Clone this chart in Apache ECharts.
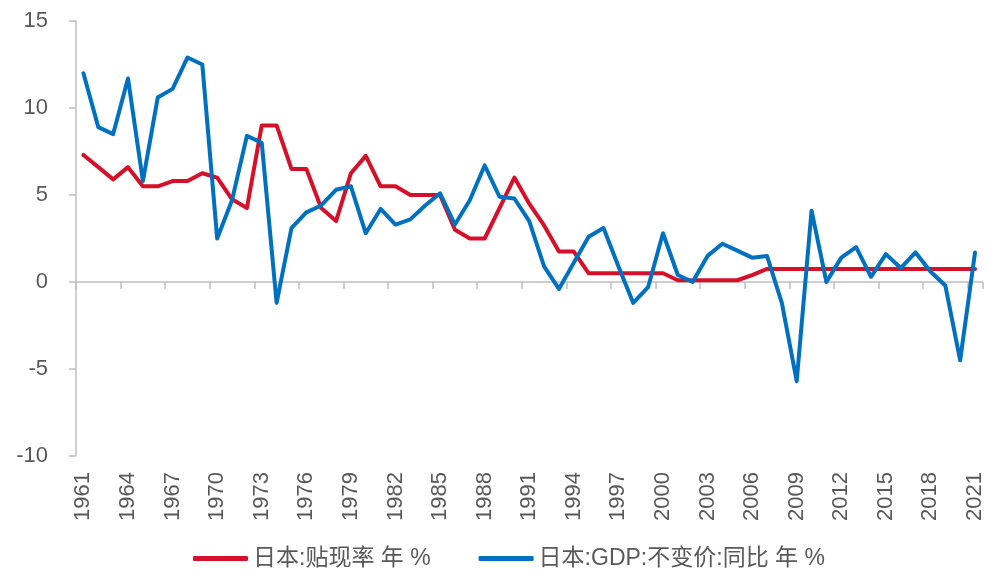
<!DOCTYPE html>
<html>
<head>
<meta charset="utf-8">
<script src="https://cdn.jsdelivr.net/npm/echarts@6/dist/echarts.min.js"></script>
<style>
  html, body { margin: 0; padding: 0; background: #fff; }
  #main { width: 986px; height: 570px; }
</style>
</head>
<body>
<div id="main"></div>
<script>
  // 年份 1961-2021
  var years = [];
  for (var y = 1961; y <= 2021; y++) years.push(String(y));

  // 日本:贴现率 年 %
  var discountRate = [
    7.3, 6.6, 5.9, 6.6, 5.5, 5.5, 5.8, 5.8, 6.25, 6.0,
    4.75, 4.25, 9.0, 9.0, 6.5, 6.5, 4.25, 3.5, 6.25, 7.25,
    5.5, 5.5, 5.0, 5.0, 5.0, 3.0, 2.5, 2.5, 4.25, 6.0,
    4.5, 3.25, 1.75, 1.75, 0.5, 0.5, 0.5, 0.5, 0.5, 0.5,
    0.1, 0.1, 0.1, 0.1, 0.1, 0.4, 0.75, 0.75, 0.75, 0.75,
    0.75, 0.75, 0.75, 0.75, 0.75, 0.75, 0.75, 0.75, 0.75, 0.75,
    0.75
  ];

  // 日本:GDP:不变价:同比 年 %
  var gdpYoy = [
    12.0, 8.9, 8.5, 11.7, 5.8, 10.6, 11.1, 12.9, 12.5, 2.5,
    4.7, 8.4, 8.0, -1.2, 3.1, 4.0, 4.4, 5.3, 5.5, 2.8,
    4.2, 3.3, 3.6, 4.4, 5.1, 3.3, 4.7, 6.7, 4.9, 4.8,
    3.5, 0.9, -0.4, 1.1, 2.6, 3.1, 0.9, -1.2, -0.3, 2.8,
    0.4, 0.0, 1.5, 2.2, 1.8, 1.4, 1.5, -1.2, -5.7, 4.1,
    0.0, 1.4, 2.0, 0.3, 1.6, 0.8, 1.7, 0.6, -0.2, -4.5,
    1.7
  ];

  var yTicks = [-10, -5, 0, 5, 10, 15];

  var axisGray = '#bfbfbf';
  var textGray = '#595959';
  var font = '"Liberation Sans", Arial, "Noto Sans CJK SC", sans-serif';

  var myChart = echarts.init(document.getElementById('main'));
  myChart.setOption({
    animation: false,
    textStyle: { fontFamily: font },
    grid: { left: 76, right: 2, top: 21, bottom: 114 },
    legend: {
      bottom: -5,
      left: 188,
      icon: 'roundRect',
      itemWidth: 55,
      itemHeight: 5,
      itemGap: 48,
      textStyle: { fontSize: 23, color: textGray, fontFamily: font },
      data: ['日本:贴现率 年 %', '日本:GDP:不变价:同比 年 %']
    },
    xAxis: [
      {
        // 零轴: 只画线和刻度
        type: 'category',
        data: years,
        boundaryGap: true,
        axisLine: { onZero: true, lineStyle: { color: axisGray, width: 1.5 } },
        axisTick: { show: true, interval: 2, length: 7, lineStyle: { color: axisGray, width: 1.5 } },
        axisLabel: { show: false },
        splitLine: { show: false }
      },
      {
        // 底部标签
        type: 'category',
        data: years,
        position: 'bottom',
        boundaryGap: true,
        axisLine: { show: false, onZero: false },
        axisTick: { show: false },
        axisLabel: {
          interval: 2,
          rotate: 90,
          margin: 16,
          fontSize: 22,
          color: textGray,
          fontFamily: font
        },
        splitLine: { show: false }
      }
    ],
    yAxis: {
      type: 'value',
      min: yTicks[0],
      max: yTicks[yTicks.length - 1],
      interval: 5,
      axisLine: { show: true, lineStyle: { color: axisGray, width: 1.5 } },
      axisTick: { show: true, length: 7, lineStyle: { color: axisGray, width: 1.5 } },
      axisLabel: { margin: 28, fontSize: 22, color: textGray, fontFamily: font },
      splitLine: { show: false }
    },
    series: [
      {
        name: '日本:贴现率 年 %',
        type: 'line',
        xAxisIndex: 0,
        data: discountRate,
        symbol: 'none',
        color: '#d7102a',
        lineStyle: { width: 4, color: '#d7102a', cap: 'round', join: 'round' }
      },
      {
        name: '日本:GDP:不变价:同比 年 %',
        type: 'line',
        xAxisIndex: 0,
        data: gdpYoy,
        symbol: 'none',
        color: '#0070c0',
        lineStyle: { width: 4, color: '#0070c0', cap: 'round', join: 'round' }
      }
    ]
  });
</script>
</body>
</html>
